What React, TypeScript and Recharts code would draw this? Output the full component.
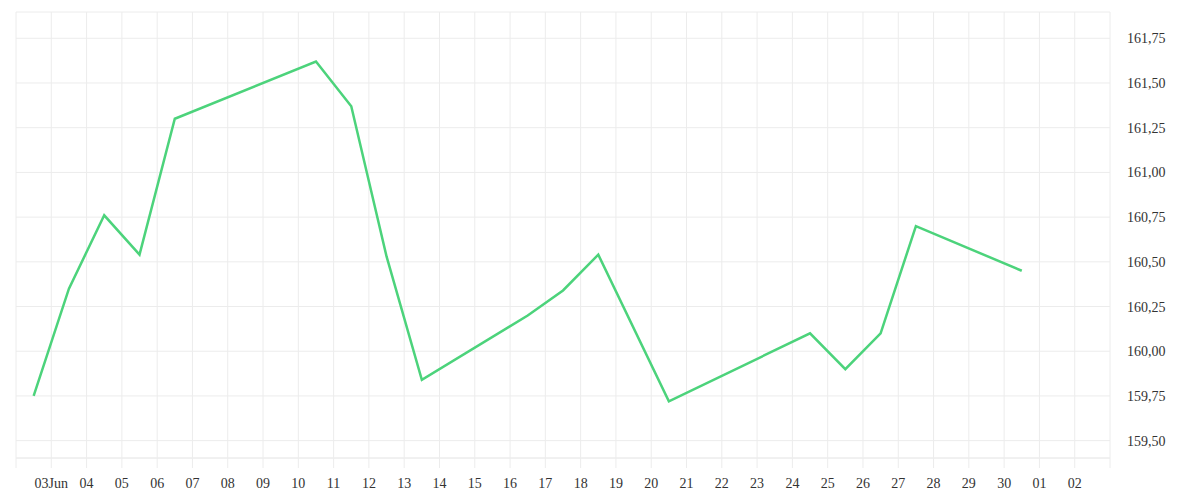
import { CartesianGrid, Line, LineChart, XAxis, YAxis } from 'recharts';

// one reading per trading day
const DATES = [
  '2023-06-02', '2023-06-03', '2023-06-04', '2023-06-05', '2023-06-06',
  '2023-06-10', '2023-06-11', '2023-06-12', '2023-06-13', '2023-06-16',
  '2023-06-17', '2023-06-18', '2023-06-20', '2023-06-24', '2023-06-25',
  '2023-06-26', '2023-06-27', '2023-06-30',
];

const VALUES = [
  159.75, 160.35, 160.76, 160.54, 161.3,
  161.62, 161.37, 160.53, 159.84, 160.2,
  160.34, 160.54, 159.72, 160.1, 159.9,
  160.1, 160.7, 160.45,
];

// day ticks from 03 Jun to 02 Jul
const TICK_LABELS = [
  '03Jun', '04', '05', '06', '07', '08', '09', '10', '11', '12',
  '13', '14', '15', '16', '17', '18', '19', '20', '21', '22',
  '23', '24', '25', '26', '27', '28', '29', '30', '01', '02',
];

const Y_TICKS = [159.5, 159.75, 160, 160.25, 160.5, 160.75, 161, 161.25, 161.5, 161.75];
const Y_DOMAIN: [number, number] = [159.403, 161.897];

const COLORS = {
  line: '#4CD37B',
  grid: '#ececec',
  text: '#333333',
};

const DAY_MS = 86400000;
const ORIGIN = Date.UTC(2023, 5, 3);

function dayIndex(iso: string) {
  const [y, m, d] = iso.split('-').map(Number);
  return (Date.UTC(y, m - 1, d) - ORIGIN) / DAY_MS;
}

// points sit in the middle of their day cell
const data = DATES.map((date, i) => ({ x: dayIndex(date) + 0.5, value: VALUES[i] }));

// edge ticks (-1 and 30) only carry grid lines
const xTicks = [-1, ...TICK_LABELS.map((_, i) => i), TICK_LABELS.length];

function formatXTick(v: number) {
  return TICK_LABELS[v] ?? '';
}

function formatYTick(v: number) {
  return v.toFixed(2).replace('.', ',');
}

const tickStyle = {
  fontSize: 14,
  fontFamily: '"Liberation Serif", serif',
  fill: COLORS.text,
};

export default function App() {
  return (
    <div style={{ position: 'absolute', left: 0, top: 0, background: '#fff' }}>
      <LineChart
        width={1200}
        height={500}
        data={data}
        margin={{ top: 12, right: 16, left: 16, bottom: 12 }}
      >
        <CartesianGrid stroke={COLORS.grid} strokeWidth={1} />
        <XAxis
          dataKey="x"
          type="number"
          domain={[-1, TICK_LABELS.length]}
          ticks={xTicks}
          interval={0}
          tickFormatter={formatXTick}
          height={30}
          tickSize={10}
          tickMargin={10}
          axisLine={{ stroke: COLORS.grid }}
          tickLine={{ stroke: COLORS.grid }}
          tick={tickStyle}
        />
        <YAxis
          orientation="right"
          type="number"
          domain={Y_DOMAIN}
          ticks={Y_TICKS}
          interval={0}
          allowDataOverflow
          tickFormatter={formatYTick}
          width={74}
          tickSize={0}
          tickMargin={17}
          axisLine={false}
          tickLine={false}
          tick={tickStyle}
        />
        <Line
          type="linear"
          dataKey="value"
          stroke={COLORS.line}
          strokeWidth={2.5}
          dot={false}
          activeDot={false}
          isAnimationActive={false}
        />
      </LineChart>
    </div>
  );
}
